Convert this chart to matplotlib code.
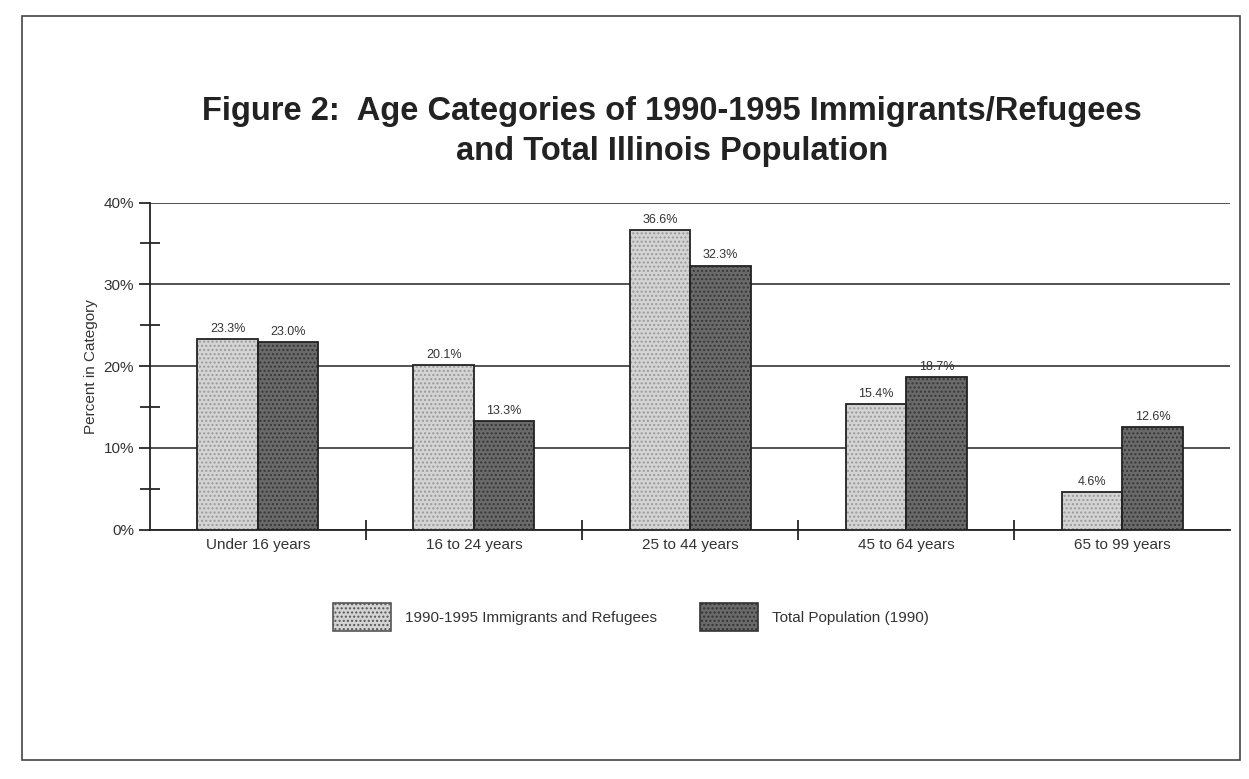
import numpy as np
import matplotlib.pyplot as plt
from matplotlib.patches import Rectangle, Patch
from matplotlib.ticker import MultipleLocator, FuncFormatter

plt.rcParams['font.family'] = ['Liberation Sans', 'DejaVu Sans']

# 数据
categories = ['Under 16 years', '16 to 24 years', '25 to 44 years', '45 to 64 years', '65 to 99 years']
immigrants = [23.3, 20.1, 36.6, 15.4, 4.6]
total_pop = [23.0, 13.3, 32.3, 18.7, 12.6]
series_names = ['1990-1995 Immigrants and Refugees', 'Total Population (1990)']

light = '#d4d4d4'
dark = '#6a6a6a'
text_col = '#333333'

fig = plt.figure(figsize=(12.49, 7.79), dpi=100)

# 外框
fig.patches.append(Rectangle((0.018, 0.025), 0.975, 0.955, transform=fig.transFigure,
                             fill=False, edgecolor='#444444', linewidth=1.2))

fig.text(0.538, 0.857, 'Figure 2:  Age Categories of 1990-1995 Immigrants/Refugees',
         ha='center', va='center', fontsize=23.5, fontweight='bold', color='#222222')
fig.text(0.538, 0.806, 'and Total Illinois Population',
         ha='center', va='center', fontsize=23.5, fontweight='bold', color='#222222')

ax = fig.add_axes([0.12, 0.32, 0.865, 0.42])
x = np.arange(len(categories))
w = 0.28

def draw_bars(xpos, vals, face, hatch_col):
    # 先画网点填充，再画黑色边框
    ax.bar(xpos, vals, w, color=face, hatch='....', edgecolor=hatch_col, linewidth=0, zorder=3)
    return ax.bar(xpos, vals, w, fill=False, edgecolor='#222222', linewidth=1.3, zorder=4)

b1 = draw_bars(x - w / 2, immigrants, light, '#9a9a9a')
b2 = draw_bars(x + w / 2, total_pop, dark, '#363636')

for bars, vals in ((b1, immigrants), (b2, total_pop)):
    for rect, v in zip(bars, vals):
        ax.text(rect.get_x() + rect.get_width() / 2, v + 0.5, f'{v:.1f}%',
                ha='center', va='bottom', fontsize=9, color=text_col)

ax.set_xlim(-0.5, 4.5)
ax.set_ylim(0, 40)
ax.yaxis.set_major_locator(MultipleLocator(10))
ax.yaxis.set_minor_locator(MultipleLocator(5))
ax.yaxis.set_major_formatter(FuncFormatter(lambda v, p: f'{v:.0f}%'))
ax.grid(axis='y', which='major', color='#222222', linewidth=1.1, zorder=0)
ax.tick_params(axis='y', which='major', direction='out', length=8, labelsize=11,
               labelcolor=text_col, width=1.1)
ax.tick_params(axis='y', which='minor', direction='inout', length=14, width=1.1)

ax.set_xticks(x)
ax.set_xticklabels(categories)
ax.tick_params(axis='x', which='major', length=0, labelsize=11, labelcolor=text_col, pad=6)
ax.set_xticks(x[:-1] + 0.5, minor=True)
ax.tick_params(axis='x', which='minor', direction='inout', length=14, width=1.1)

for s in ('top', 'right'):
    ax.spines[s].set_visible(False)
for s in ('left', 'bottom'):
    ax.spines[s].set_linewidth(1.3)
    ax.spines[s].set_color('#222222')

ax.set_ylabel('Percent in Category', fontsize=11, color=text_col, labelpad=4)

handles = [Patch(facecolor=light, edgecolor='#555555', hatch='....', linewidth=1.2),
           Patch(facecolor=dark, edgecolor='#333333', hatch='....', linewidth=1.2)]
fig.legend(handles, series_names, loc='center', bbox_to_anchor=(0.505, 0.208), ncol=2,
           frameon=False, fontsize=11, handlelength=3.8, handleheight=2.5,
           columnspacing=2.8, handletextpad=0.9, labelcolor=text_col)

fig.savefig('out.png', dpi=100)
